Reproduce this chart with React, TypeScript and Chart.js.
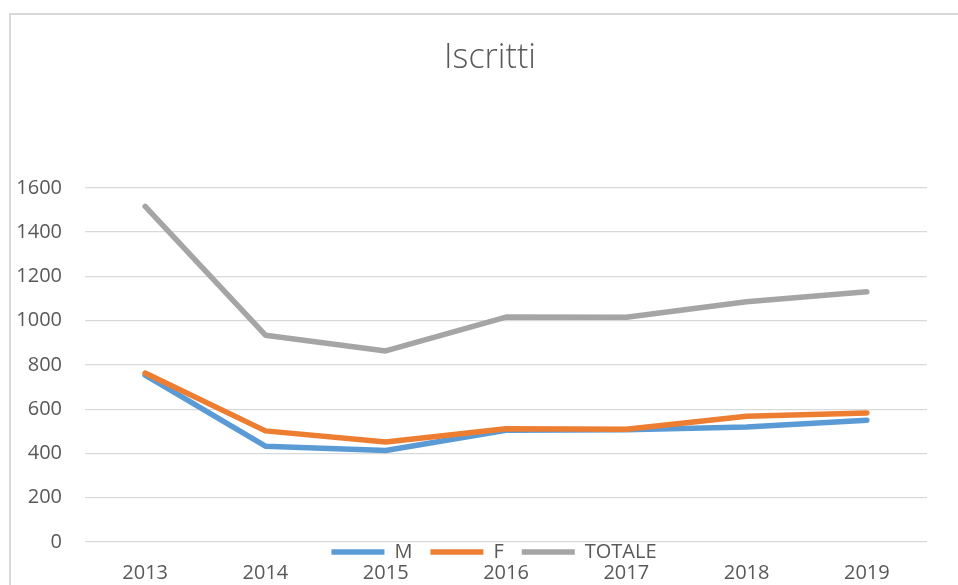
import React, { useEffect, useRef } from "react";
import { Chart, registerables } from "chart.js";

Chart.register(...registerables);

const TITLE = "Iscritti";
const YEARS = ["2013", "2014", "2015", "2016", "2017", "2018", "2019"];
const M_VALUES = [754, 433, 413, 505, 507, 520, 550];
const F_VALUES = [763, 502, 452, 512, 509, 568, 583];
const TOTALE_VALUES = [1516, 934, 863, 1016, 1015, 1085, 1130];
const Y_MIN = 0;
const Y_MAX = 1600;
const Y_STEP = 200;

const FONT = "'Open Sans', 'Liberation Sans', sans-serif";
const TEXT = "#595959";

const placer = {
  id: "placer",
  afterLayout(chart: any) {
    const ca = chart.chartArea;
    const lg = chart.legend;
    if (lg) {
      const pad = lg.options.labels.padding;
      lg.top = ca.bottom - pad;
      lg.bottom = lg.top + 70;
      lg.height = 70;
      const target = (ca.left + ca.right) / 2 - 12;
      const dx = target - (lg.left + lg.right) / 2;
      lg.left += dx;
      lg.right += dx;
    }
    const tb = chart.titleBlock;
    if (tb) {
      const target = (ca.left + ca.right) / 2 - 16;
      const dx = target - (tb.left + tb.right) / 2;
      tb.left += dx;
      tb.right += dx;
    }
  },
};

export default function App() {
  const ref = useRef<HTMLCanvasElement>(null);

  useEffect(() => {
    if (!ref.current) return;
    const common = {
      borderWidth: 5.5,
      pointRadius: 0,
      pointHoverRadius: 0,
      tension: 0,
      fill: false,
      borderCapStyle: "round" as const,
      borderJoinStyle: "round" as const,
    };
    const chart = new Chart(ref.current, {
      type: "line",
      data: {
        labels: YEARS,
        datasets: [
          { ...common, label: "M", data: M_VALUES, borderColor: "#5b9bd5", backgroundColor: "#5b9bd5", order: 1 },
          { ...common, label: "F", data: F_VALUES, borderColor: "#ed7d31", backgroundColor: "#ed7d31", order: 0 },
          { ...common, label: "TOTALE", data: TOTALE_VALUES, borderColor: "#a5a5a5", backgroundColor: "#a5a5a5", order: 2 },
        ],
      },
      options: {
        responsive: false,
        animation: false,
        layout: { padding: { left: 0, right: 31, top: 0, bottom: 0 } },
        plugins: {
          title: {
            display: true,
            text: TITLE,
            color: TEXT,
            font: { family: FONT, size: 34, weight: "300" as any },
            padding: { top: 38, bottom: 108 },
          },
          legend: {
            display: true,
            position: "top",
            maxHeight: 1,
            labels: {
              usePointStyle: true,
              pointStyle: "line",
              pointStyleWidth: 53,
              padding: 18,
              color: TEXT,
              font: { family: FONT, size: 20 },
              sort: (a: any, b: any) => a.datasetIndex - b.datasetIndex,
            },
          },
          tooltip: { enabled: false },
        },
        scales: {
          x: {
            offset: true,
            grid: { display: false, drawTicks: false },
            border: { display: false },
            ticks: {
              color: TEXT,
              font: { family: FONT, size: 20 },
              padding: 19,
              maxRotation: 0,
            },
            afterFit: (scale: any) => {
              scale.height = 43;
            },
          },
          y: {
            min: Y_MIN,
            max: Y_MAX,
            grid: { color: "#d9d9d9", lineWidth: 1.3, drawTicks: false },
            border: { display: false },
            ticks: {
              stepSize: Y_STEP,
              color: TEXT,
              font: { family: FONT, size: 20 },
              padding: 23,
              callback: (v: any) => String(v),
            },
            afterFit: (scale: any) => {
              scale.width = 85;
            },
          },
        },
      },
      plugins: [placer],
    });
    return () => chart.destroy();
  }, []);

  return (
    <div
      style={{
        position: "fixed",
        left: 0,
        top: 0,
        width: 958,
        height: 585,
        overflow: "hidden",
        background: "#fff",
      }}
    >
      <div
        style={{
          position: "absolute",
          left: 9,
          top: 13,
          width: 1100,
          height: 800,
          border: "2px solid #d9d9d9",
        }}
      />
      <canvas
        ref={ref}
        width={958}
        height={585}
        style={{ position: "absolute", left: 0, top: 0, width: 958, height: 585 }}
      />
    </div>
  );
}
